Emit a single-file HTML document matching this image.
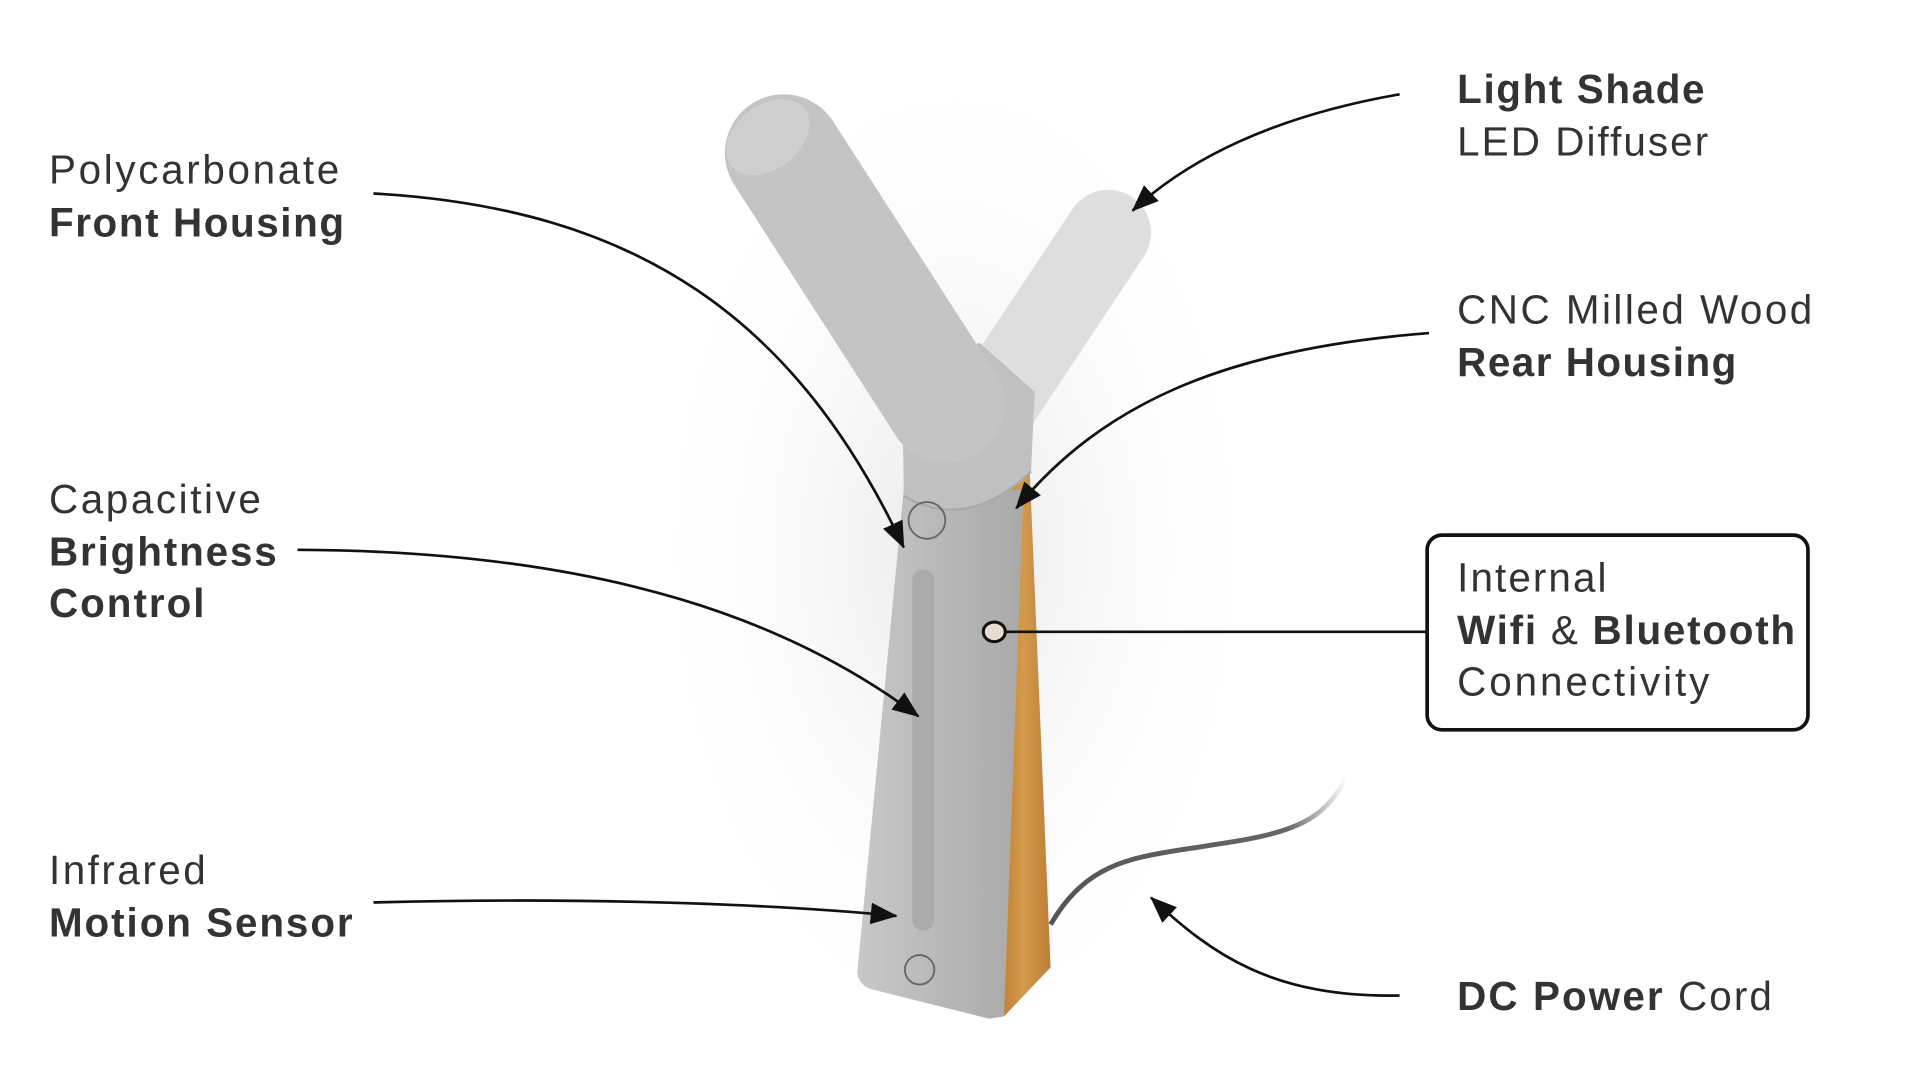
<!DOCTYPE html>
<html><head><meta charset="utf-8"><style>
html,body{margin:0;padding:0;background:#fff;}
svg{display:block;}
text{font-family:"Liberation Sans",sans-serif;fill:#333;font-size:33px;}
.b{font-weight:bold;}
</style></head><body>
<svg width="1920" height="1080" viewBox="0 0 1568 882" preserveAspectRatio="none">
<defs>
<marker id="a" viewBox="0 0 20 16" refX="19" refY="8" markerWidth="22" markerHeight="18" orient="auto" markerUnits="userSpaceOnUse"><path d="M0,0 L20,8 L0,16 z" fill="#111"/></marker>
<radialGradient id="glow" cx="0.5" cy="0.5" r="0.5"><stop offset="0" stop-color="#e8e8e8"/><stop offset="1" stop-color="#fff" stop-opacity="0"/></radialGradient>
<linearGradient id="stem" x1="0" x2="1" y1="0" y2="0"><stop offset="0" stop-color="#c8c8c8"/><stop offset="0.5" stop-color="#b8b8b8"/><stop offset="1" stop-color="#a9a9a9"/></linearGradient>
<linearGradient id="wood" x1="0" x2="1"><stop offset="0" stop-color="#b8762c"/><stop offset="0.5" stop-color="#d39a4c"/><stop offset="1" stop-color="#c07e34"/></linearGradient>
<linearGradient id="cord" x1="0" x2="1"><stop offset="0" stop-color="#555"/><stop offset="0.8" stop-color="#666"/><stop offset="1" stop-color="#666" stop-opacity="0"/></linearGradient>
</defs>
<ellipse cx="780" cy="450" rx="260" ry="420" fill="url(#glow)"/>
<!-- right arm -->
<line x1="905" y1="190" x2="812" y2="330" stroke="#dedede" stroke-width="70" stroke-linecap="round"/>
<!-- wood -->
<polygon points="835,362 840,362 858,790 820,830 812,420" fill="url(#wood)"/>
<!-- stem -->
<path d="M738,400 L700,795 Q702,805 712,808 L808,832 L820,830 L836,400 Z" fill="url(#stem)"/>
<!-- neck -->
<path d="M733,300 Q738,335 738,405 Q790,435 842,385 L845,320 L800,280 Z" fill="#c0c0c0"/>
<!-- left arm -->
<line x1="640" y1="125" x2="772" y2="330" stroke="#c4c4c4" stroke-width="96" stroke-linecap="round"/>
<ellipse cx="627" cy="112" rx="38" ry="26" transform="rotate(-38 627 112)" fill="#cfcfcf"/>
<path d="M738,405 Q790,435 842,385" fill="none" stroke="#aaa" stroke-width="2"/>
<!-- details -->
<circle cx="757" cy="425" r="15" fill="none" stroke="#666" stroke-width="1.5"/>
<rect x="745" y="465" width="18" height="295" rx="9" fill="#ababab"/>
<circle cx="751" cy="792" r="12" fill="none" stroke="#666" stroke-width="1.5"/>
<!-- cord -->
<path d="M858,755 C890,700 930,700 990,690 C1060,680 1080,670 1100,635" fill="none" stroke="url(#cord)" stroke-width="4"/>
<!-- arrows -->
<g fill="none" stroke="#111" stroke-width="2.2">
<path d="M305,158 C520,170 650,260 738,447" marker-end="url(#a)"/>
<path d="M243,449 C500,450 650,510 750,585" marker-end="url(#a)"/>
<path d="M305,737 C500,732 650,740 732,748" marker-end="url(#a)"/>
<path d="M1143,77 C1040,95 970,130 925,172" marker-end="url(#a)"/>
<path d="M1167,272 C1000,285 900,330 830,415" marker-end="url(#a)"/>
<path d="M1143,813 C1040,815 990,780 940,733" marker-end="url(#a)"/>
<line x1="820" y1="516" x2="1165" y2="516"/>
</g>
<ellipse cx="812" cy="516" rx="9" ry="8" fill="#e8dcd0" stroke="#111" stroke-width="2.5"/>
<rect x="1165.5" y="437" width="311" height="159" rx="12" fill="#fff" stroke="#111" stroke-width="3"/>
<!-- text -->
<text x="40" y="150" textLength="237">Polycarbonate</text>
<text x="40" y="193" class="b" textLength="241">Front Housing</text>
<text x="40" y="419" textLength="173">Capacitive</text>
<text x="40" y="462" class="b" textLength="186">Brightness</text>
<text x="40" y="504" class="b" textLength="127">Control</text>
<text x="40" y="722" textLength="128">Infrared</text>
<text x="40" y="765" class="b" textLength="248">Motion Sensor</text>
<text x="1190" y="84" class="b" textLength="202">Light Shade</text>
<text x="1190" y="127" textLength="205">LED Diffuser</text>
<text x="1190" y="264" textLength="290">CNC Milled Wood</text>
<text x="1190" y="307" class="b" textLength="228">Rear Housing</text>
<text x="1190" y="483" textLength="122">Internal</text>
<text x="1190" y="526" textLength="276"><tspan class="b">Wifi</tspan> &amp; <tspan class="b">Bluetooth</tspan></text>
<text x="1190" y="568" textLength="206">Connectivity</text>
<text x="1190" y="825" textLength="257"><tspan class="b">DC Power</tspan> Cord</text>
</svg>
</body></html>
